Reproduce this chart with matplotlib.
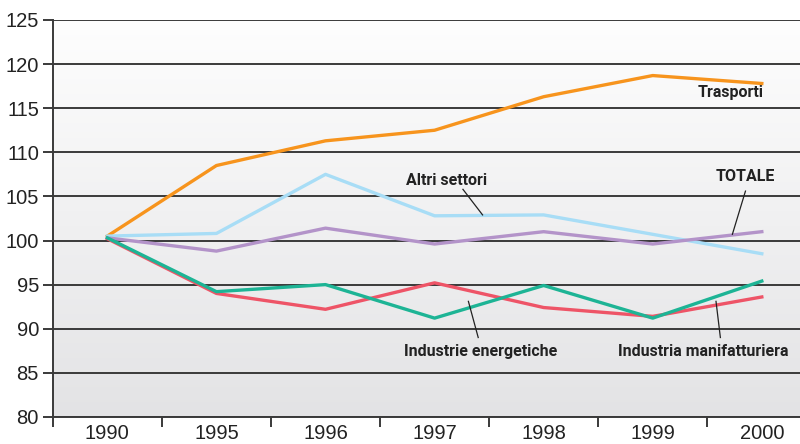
import numpy as np
import matplotlib.pyplot as plt
from matplotlib.colors import LinearSegmentedColormap

years = ['1990', '1995', '1996', '1997', '1998', '1999', '2000']
trasporti = [100.5, 108.5, 111.3, 112.5, 116.3, 118.7, 117.8]
altri_settori = [100.5, 100.8, 107.5, 102.8, 102.9, 100.7, 98.5]
totale = [100.3, 98.8, 101.4, 99.6, 101.0, 99.6, 101.0]
ind_energetiche = [100.3, 94.2, 95.0, 91.2, 94.9, 91.2, 95.4]
ind_manifatturiera = [100.2, 94.0, 92.2, 95.2, 92.4, 91.4, 93.6]
yticks = [80, 85, 90, 95, 100, 105, 110, 115, 120, 125]

label_font = ['Roboto', 'DejaVu Sans']

fig = plt.figure(figsize=(8, 4.44), dpi=100)
ax = fig.add_axes([0.066, 0.061, 0.934, 0.894])
x = np.arange(len(years))
ax.set_xlim(-0.5, 6.35)
ax.set_ylim(80, 125)

# gradient background, light at top
grad = np.linspace(0, 1, 256).reshape(-1, 1)
ax.imshow(grad, cmap=LinearSegmentedColormap.from_list('bg', ['#fefefe', '#e3e3e5']),
          aspect='auto', origin='upper', extent=[-0.5, 6.35, 80, 125], zorder=0)

for v in yticks:
    ax.axhline(v, color='#3a3a3a', lw=1.4, zorder=1)

ax.plot(x, trasporti, color='#F7941D', lw=2.4, zorder=3)
ax.plot(x, altri_settori, color='#A8DDF6', lw=2.4, zorder=3)
ax.plot(x, totale, color='#B393C9', lw=2.4, zorder=3)
ax.plot(x, ind_manifatturiera, color='#EE5467', lw=2.4, zorder=3)
ax.plot(x, ind_energetiche, color='#1DB495', lw=2.4, zorder=4)

ax.set_xticks(x)
ax.set_xticklabels(years)
ax.set_xticks(np.arange(-0.5, 6.5, 1), minor=True)
ax.tick_params(axis='x', which='major', length=0, labelsize=14.5, pad=5)
ax.tick_params(axis='x', which='minor', length=7, width=1.4, color='#3a3a3a', direction='out')
ax.set_yticks(yticks)
ax.tick_params(axis='y', length=7, width=1.4, color='#3a3a3a', labelsize=14.5, pad=3)
for lab in ax.get_xticklabels() + ax.get_yticklabels():
    lab.set_fontfamily(['Liberation Sans', 'DejaVu Sans'])
    lab.set_color('#222222')

for s in ['top', 'right']:
    ax.spines[s].set_visible(False)
ax.spines['bottom'].set_color('#3a3a3a')
ax.spines['bottom'].set_linewidth(1.4)
ax.spines['left'].set_color('#3a3a3a')
ax.spines['left'].set_linewidth(1.4)

kw = dict(fontsize=11.5, fontweight='bold', family=label_font, color='#222222',
          ha='center', va='center', zorder=5)
ax.text(5.71, 116.8, 'Trasporti', **kw)
ax.text(3.11, 106.8, 'Altri settori', **kw)
ax.text(5.85, 107.3, 'TOTALE', **kw)
ax.text(3.42, 87.4, 'Industrie energetiche', **kw)
ax.text(5.46, 87.4, 'Industria manifatturiera', **kw)

lk = dict(color='#222222', lw=0.9, zorder=5)
ax.plot([3.26, 3.44], [105.8, 102.9], **lk)
ax.plot([5.85, 5.73], [105.6, 100.7], **lk)
ax.plot([3.31, 3.40], [93.1, 89.0], **lk)
ax.plot([5.58, 5.62], [93.1, 89.0], **lk)

fig.savefig('out.png', dpi=100)
